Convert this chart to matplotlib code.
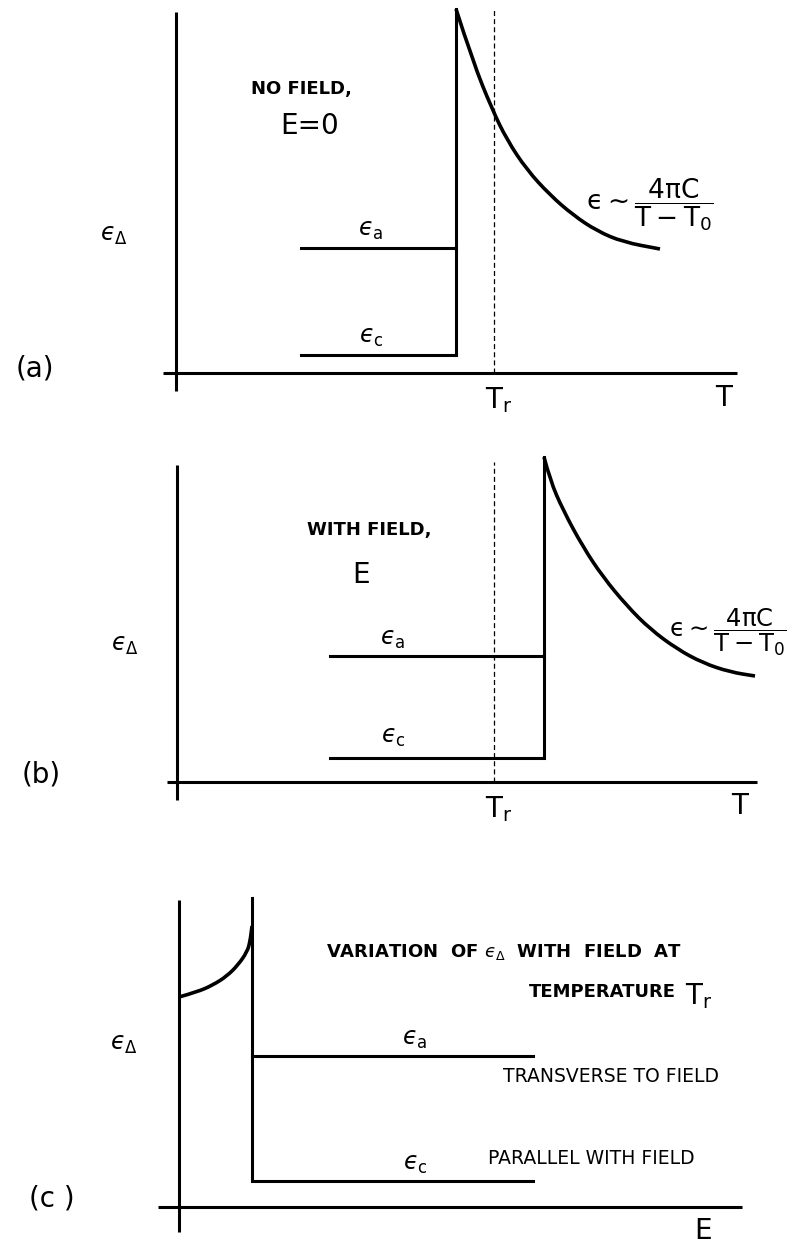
import numpy as np
import matplotlib; matplotlib.use("Agg")
import matplotlib.pyplot as plt
from matplotlib.path import Path
from matplotlib.patches import PathPatch

plt.rcParams.update({"font.family": "DejaVu Sans", "mathtext.fontset": "dejavusans",
                     "figure.facecolor": "white"})

W, H, DPI = 794, 1247, 100
PX = 50          # pixels per data unit, same on both axes
LW = 2.2

# ── (a) no field: epsilon vs T ──────────────────────────────────────────────
A_T_LOW, A_T_JUMP, A_T_R = 2.5, 5.6, 6.36
A_EPS_A, A_EPS_C = 2.5, 0.36
A_CURVE_T = [5.6, 5.94, 6.32, 6.62, 7.02, 7.48, 7.94, 8.42, 8.94, 9.68]
A_CURVE_EPS = [7.28, 6.22, 5.28, 4.66, 4.06, 3.56, 3.16, 2.84, 2.62, 2.48]

# ── (b) with field: transition shifted above T_r ─────────────────────────────
B_T_LOW, B_T_JUMP, B_T_R = 3.06, 7.34, 6.34
B_EPS_A, B_EPS_C = 2.52, 0.48
B_CURVE_T = [7.34, 7.46, 7.72, 8.12, 8.52, 9.0, 9.46, 10.0, 10.52, 11.06, 11.56]
B_CURVE_EPS = [6.5, 6.04, 5.44, 4.7, 4.1, 3.52, 3.06, 2.66, 2.38, 2.2, 2.12]

# ── (c) epsilon vs field at T_r ──────────────────────────────────────────────
C_E_JUMP, C_E_END = 1.46, 7.08
C_EPS_A, C_EPS_C, C_EPS_TOP = 3.02, 0.52, 6.18
C_CURVE_E = [0.0, 0.36, 0.68, 0.96, 1.18, 1.36, 1.42, 1.46]
C_CURVE_EPS = [4.2, 4.3, 4.44, 4.62, 4.84, 5.1, 5.3, 5.62]

BIG = dict(fontsize=20, ha="center", va="center")
EPS = dict(fontsize=17, ha="center", va="center")
CAPS = dict(fontsize=13, fontweight="bold", ha="center", va="center")
THIN = dict(fontsize=13.5, ha="center", va="center")
FORMULA = r"$\mathregular{ϵ \sim \dfrac{4\pi C}{T-T_0}}$"


def panel(fig, top, bottom, x0, y0):
    """Axes spanning a horizontal band of the page; data origin at pixel (x0, y0)."""
    ax = fig.add_axes([0, 1 - bottom / H, 1, (bottom - top) / H])
    ax.set_xlim(-x0 / PX, (W - x0) / PX)
    ax.set_ylim((y0 - bottom) / PX, (y0 - top) / PX)
    ax.axis("off")
    return ax


def frame(ax, xr, yr):
    ax.plot(xr, [0, 0], color="black", lw=LW, solid_capstyle="butt")
    ax.plot([0, 0], yr, color="black", lw=LW, solid_capstyle="butt")


def smooth(ax, xs, ys, lw):
    # quadratic spline through the midpoints of the read-off points
    pts = np.column_stack([xs, ys])
    verts, codes = [pts[0]], [Path.MOVETO]
    for i in range(1, len(pts) - 1):
        verts += [pts[i], (pts[i] + pts[i + 1]) / 2]
        codes += [Path.CURVE3, Path.CURVE3]
    verts.append(pts[-1]); codes.append(Path.LINETO)
    ax.add_patch(PathPatch(Path(verts, codes), fill=False, lw=lw, ec="black",
                           capstyle="butt"))


def temp_panel(ax, t_low, t_jump, t_r, eps_a, eps_c, ct, ce, xr, yr, dash_top):
    frame(ax, xr, yr)
    ax.plot([t_low, t_jump], [eps_a, eps_a], color="black", lw=LW)
    ax.plot([t_low, t_jump, t_jump], [eps_c, eps_c, ce[0]], color="black", lw=LW,
            solid_joinstyle="miter")
    smooth(ax, ct, ce, LW + 0.4)
    ax.plot([t_r, t_r], [0, dash_top], color="black", lw=0.9, ls=(0, (4, 2.5)))
    ax.text(t_r + 0.1, -0.55, r"$\mathregular{T_r}$", **BIG)


fig = plt.figure(figsize=(W / DPI, H / DPI), dpi=DPI)

# (a)
ax = panel(fig, 0, 420, 176, 373)
temp_panel(ax, A_T_LOW, A_T_JUMP, A_T_R, A_EPS_A, A_EPS_C, A_CURVE_T, A_CURVE_EPS,
           [-0.26, 11.22], [-0.36, 7.22], 7.3)
ax.text(-2.82, 0.08, "(a)", **BIG)
ax.text(-1.24, 2.76, r"$ϵ_\Delta$", **EPS)
ax.text(2.5, 5.68, "NO FIELD,", **CAPS)
ax.text(2.68, 4.94, "E=0", **BIG)
ax.text(3.9, 2.86, r"$ϵ_\mathrm{a}$", **EPS)
ax.text(3.9, 0.72, r"$ϵ_\mathrm{c}$", **EPS)
ax.text(10.96, -0.5, "T", **BIG)
ax.text(10.76, 3.36, FORMULA, fontsize=19, ha="right", va="center")

# (b)
ax = panel(fig, 420, 850, 177, 782)
temp_panel(ax, B_T_LOW, B_T_JUMP, B_T_R, B_EPS_A, B_EPS_C, B_CURVE_T, B_CURVE_EPS,
           [-0.2, 11.6], [-0.36, 6.34], 6.4)
ax.text(-2.72, 0.16, "(b)", **BIG)
ax.text(-1.04, 2.74, r"$ϵ_\Delta$", **EPS)
ax.text(3.84, 5.04, "WITH FIELD,", **CAPS)
ax.text(3.68, 4.14, "E", **BIG)
ax.text(4.32, 2.86, r"$ϵ_\mathrm{a}$", **EPS)
ax.text(4.32, 0.9, r"$ϵ_\mathrm{c}$", **EPS)
ax.text(11.26, -0.48, "T", **BIG)
ax.text(12.2, 3.0, FORMULA, fontsize=17.5, ha="right", va="center")

# (c)
ax = panel(fig, 850, 1247, 179, 1207)
frame(ax, [-0.42, 11.26], [-0.5, 6.14])
smooth(ax, C_CURVE_E, C_CURVE_EPS, LW + 0.4)
ax.plot([C_E_JUMP, C_E_JUMP, C_E_END], [C_EPS_TOP, C_EPS_C, C_EPS_C], color="black", lw=LW,
        solid_joinstyle="miter")
ax.plot([C_E_JUMP, C_E_END], [C_EPS_A, C_EPS_A], color="black", lw=LW)
ax.text(-2.54, 0.16, "(c )", **BIG)
ax.text(-1.1, 3.26, r"$ϵ_\Delta$", **EPS)
ax.text(6.5, 5.1, r"VARIATION  OF $ϵ_\Delta$  WITH  FIELD  AT", **CAPS)
ax.text(8.46, 4.3, "TEMPERATURE", **CAPS)
ax.text(10.4, 4.22, r"$\mathregular{T_r}$", **BIG)
ax.text(4.72, 3.36, r"$ϵ_\mathrm{a}$", **EPS)
ax.text(4.72, 0.86, r"$ϵ_\mathrm{c}$", **EPS)
ax.text(8.64, 2.6, "TRANSVERSE TO FIELD", **THIN)
ax.text(8.24, 0.98, "PARALLEL WITH FIELD", **THIN)
ax.text(10.48, -0.48, "E", **BIG)

fig.savefig("out.png", dpi=DPI)
